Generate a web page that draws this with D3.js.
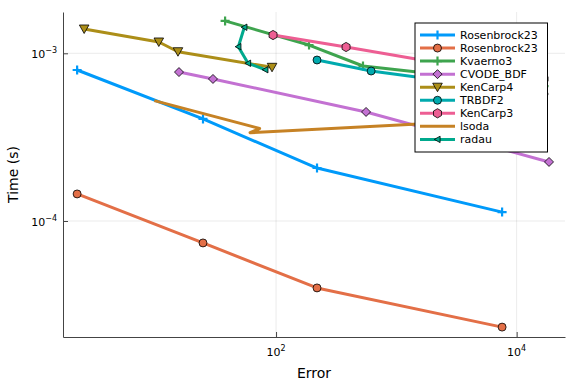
<!DOCTYPE html>
<html>
<head>
<meta charset="utf-8">
<script src="https://cdn.jsdelivr.net/npm/d3@7"></script>
<style>
body { margin: 0; background: #fff; }
svg { font-family: "DejaVu Sans", sans-serif; }
</style>
</head>
<body>
<div class="chart"></div>
<script>
// data (error vs time, both log)
const errRosenbrock = [2.22, 24.7, 219, 7570];
const timeRosenbrockA = [7.95e-4, 4.06e-4, 2.07e-4, 1.13e-4];
const timeRosenbrockB = [1.45e-4, 7.40e-5, 3.99e-5, 2.33e-5];
const errKvaerno3 = [37.7, 188, 528, 16900];
const timeKvaerno3 = [1.56e-3, 1.12e-3, 8.40e-4, 6.38e-4];
const errCVODE = [15.6, 29.9, 560, 18580];
const timeCVODE = [7.73e-4, 7.03e-4, 4.47e-4, 2.25e-4];
const errKenCarp4 = [2.54, 10.6, 15.3, 92.6];
const timeKenCarp4 = [1.396e-3, 1.168e-3, 1.022e-3, 8.25e-4];
const errTRBDF2 = [219, 617, 16900];
const timeTRBDF2 = [9.12e-4, 7.84e-4, 5.72e-4];
const errKenCarp3 = [94.4, 382, 2540, 16900];
const timeKenCarp3 = [1.285e-3, 1.09e-3, 8.63e-4, 7.03e-4];
const errLsoda = [9.73, 73.0, 60.8, 12900];
const timeLsoda = [5.22e-4, 3.56e-4, 3.36e-4, 4.10e-4];
const errRadau = [54.5, 48.6, 58.5, 81.5];
const timeRadau = [1.43e-3, 1.095e-3, 8.72e-4, 7.98e-4];

const names = ['Rosenbrock23', 'Rosenbrock23', 'Kvaerno3', 'CVODE_BDF', 'KenCarp4', 'TRBDF2', 'KenCarp3', 'lsoda', 'radau'];
const colors = ['#009AFA', '#E36F47', '#3EA44E', '#C371D2', '#AC8E18', '#00AAAE', '#ED5E93', '#C68225', '#00A98D'];
const shapes = ['cross', 'circle', 'cross', 'diamond', 'dtriangle', 'circle', 'hexagon', 'none', 'ltriangle'];
const errs = [errRosenbrock, errRosenbrock, errKvaerno3, errCVODE, errKenCarp4, errTRBDF2, errKenCarp3, errLsoda, errRadau];
const times = [timeRosenbrockA, timeRosenbrockB, timeKvaerno3, timeCVODE, timeKenCarp4, timeTRBDF2, timeKenCarp3, timeLsoda, timeRadau];

const xTicks = [1e2, 1e4];
const yTicks = [1e-4, 1e-3];

const series = names.map((n, i) => ({
    name: n, color: colors[i], shape: shapes[i],
    values: errs[i].map((e, j) => ({err: e, time: times[i][j]}))
}));

const W = 576, H = 384;
const margin = ({top: 12, right: 11, bottom: 47, left: 63});
const width = W - margin.left - margin.right;
const height = H - margin.top - margin.bottom;

const svg = d3.select('.chart').append('svg')
    .attr('width', W).attr('height', H);

const g = svg.append('g')
    .attr('transform', `translate(${margin.left},${margin.top})`);

const xScale = d3.scaleLog().domain([1.694, 25230]).range([0, width]);
const yScale = d3.scaleLog().domain([2.034e-5, 1.763e-3]).range([height, 0]);

// grid
g.selectAll('.gx').data(xTicks).enter().append('line')
    .attr('x1', d => xScale(d)).attr('x2', d => xScale(d))
    .attr('y1', 0).attr('y2', height)
    .attr('stroke', '#000').attr('stroke-opacity', 0.1).attr('stroke-width', 0.8);
g.selectAll('.gy').data(yTicks).enter().append('line')
    .attr('y1', d => yScale(d)).attr('y2', d => yScale(d))
    .attr('x1', 0).attr('x2', width)
    .attr('stroke', '#000').attr('stroke-opacity', 0.1).attr('stroke-width', 0.8);

// axes (ticks point inward)
const xAxis = d3.axisBottom(xScale).tickValues(xTicks).tickSizeInner(-5).tickSizeOuter(0).tickFormat('');
const yAxis = d3.axisLeft(yScale).tickValues(yTicks).tickSizeInner(-5).tickSizeOuter(0).tickFormat('');
const gx = g.append('g').attr('transform', `translate(0,${height})`).call(xAxis);
const gy = g.append('g').call(yAxis);
[gx, gy].forEach(a => {
    a.select('.domain').attr('stroke', '#444').attr('stroke-width', 1);
    a.selectAll('.tick line').attr('stroke', '#444');
});

// tick labels with superscripts
xTicks.forEach(t => {
    const txt = g.append('text')
        .attr('x', xScale(t)).attr('y', height + 19)
        .attr('text-anchor', 'middle').attr('font-size', 11).attr('fill', '#000');
    txt.append('tspan').text('10');
    txt.append('tspan').attr('dy', -5).attr('font-size', 8).text(Math.round(Math.log10(t)));
});
yTicks.forEach(t => {
    const txt = g.append('text')
        .attr('x', -6).attr('y', yScale(t) + 5)
        .attr('text-anchor', 'end').attr('font-size', 11).attr('fill', '#000');
    txt.append('tspan').text('10');
    txt.append('tspan').attr('dy', -5).attr('font-size', 8)
        .text('\u2212' + Math.abs(Math.round(Math.log10(t))));
});

// axis titles
g.append('text').attr('x', width / 2).attr('y', height + 41)
    .attr('text-anchor', 'middle').attr('font-size', 14).text('Error');
svg.append('text')
    .attr('transform', `translate(18,${margin.top + height / 2}) rotate(-90)`)
    .attr('text-anchor', 'middle').attr('font-size', 14).text('Time (s)');

// marker drawing
function hexPath(r) {
    return d3.range(6).map(k => {
        const a = Math.PI / 3 * k - Math.PI / 2;
        return (k ? 'L' : 'M') + (r * Math.cos(a)).toFixed(2) + ',' + (r * Math.sin(a)).toFixed(2);
    }).join('') + 'Z';
}
function drawMarker(sel, shape, color) {
    if (shape === 'none') return;
    if (shape === 'cross') {
        sel.append('path').attr('d', 'M-4.5,0H4.5M0,-4.5V4.5')
            .attr('stroke', color).attr('stroke-width', 2.2).attr('fill', 'none');
        return;
    }
    let d;
    if (shape === 'circle') d = d3.symbol(d3.symbolCircle, 50)();
    if (shape === 'diamond') d = 'M0,-4.5L4.5,0L0,4.5L-4.5,0Z';
    if (shape === 'dtriangle') d = 'M-4.8,-4L4.8,-4L0,4.5Z';
    if (shape === 'hexagon') d = hexPath(4.6);
    if (shape === 'ltriangle') d = 'M-3.2,0L2.6,-3.2L2.6,3.2Z';
    sel.append('path').attr('d', d)
        .attr('fill', color).attr('stroke', '#000').attr('stroke-width', 0.8);
}

const line = d3.line().x(d => xScale(d.err)).y(d => yScale(d.time));

const plot = g.append('g');
series.forEach(s => {
    plot.append('path').datum(s.values)
        .attr('d', line).attr('fill', 'none')
        .attr('stroke', s.color).attr('stroke-width', 3)
        .attr('stroke-linejoin', 'round');
    plot.selectAll(null).data(s.values).enter().append('g')
        .attr('transform', d => `translate(${xScale(d.err)},${yScale(d.time)})`)
        .each(function() { drawMarker(d3.select(this), s.shape, s.color); });
});

// legend
const lg = svg.append('g').attr('transform', 'translate(415,23)');
lg.append('rect').attr('width', 132.5).attr('height', 129)
    .attr('fill', '#fff').attr('stroke', '#000').attr('stroke-width', 1);
series.forEach((s, i) => {
    const row = lg.append('g').attr('transform', `translate(0,${12 + i * 13.05})`);
    row.append('line').attr('x1', 5).attr('x2', 40).attr('y1', 0).attr('y2', 0)
        .attr('stroke', s.color).attr('stroke-width', 3);
    drawMarker(row.append('g').attr('transform', 'translate(22.5,0)'), s.shape, s.color);
    row.append('text').attr('x', 45).attr('y', 4).attr('font-size', 11).text(s.name);
});
</script>
</body>
</html>
